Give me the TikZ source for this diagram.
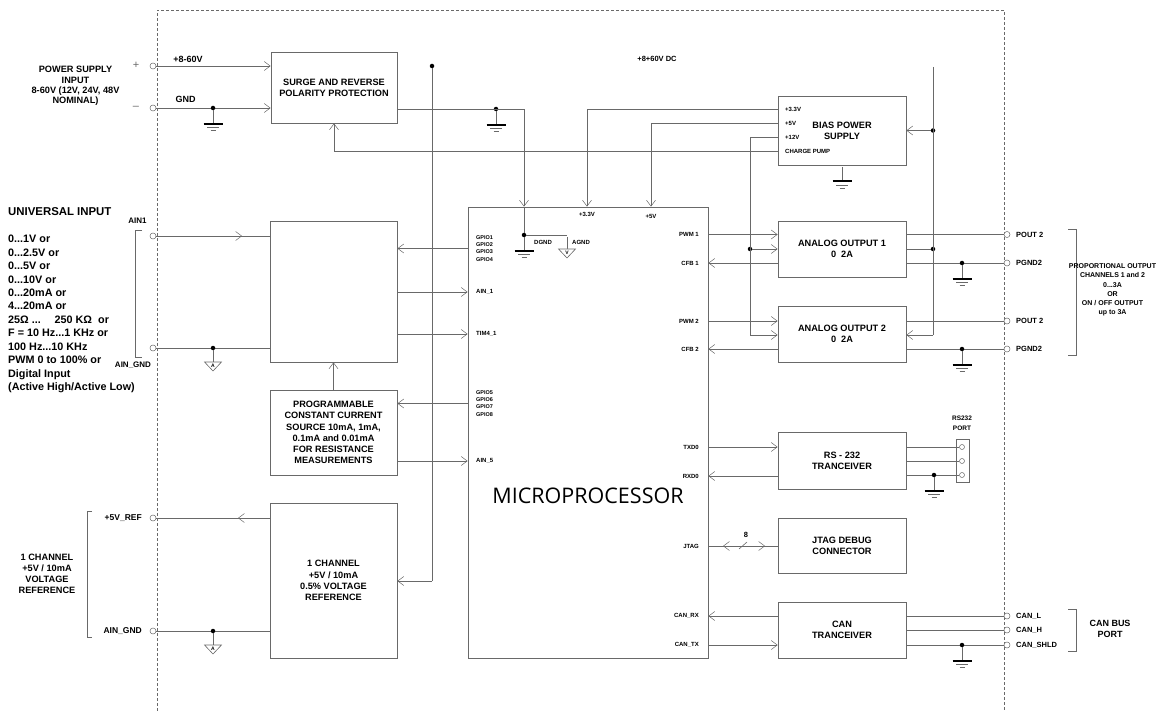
\documentclass[tikz,border=0pt]{standalone}
\usepackage{fontspec}
\setmainfont{Liberation Sans}
\newfontfamily\cpufont{Open Sans}
\usetikzlibrary{arrows.meta,calc,positioning}
\definecolor{wiregray}{RGB}{105,105,105}

\tikzset{
  wire/.style={draw=wiregray, line width=0.6pt},
  feed/.style={wire, -{Straight Barb[length=6pt,width=9pt,line width=0.5pt]}},
  block/.style={draw=wiregray, line width=0.7pt, inner sep=0pt, align=center,
    font=\bfseries\fontsize{9.2}{11.2}\selectfont},
  term/.style={circle, draw=wiregray, fill=white, line width=0.5pt, inner sep=0pt, minimum size=6pt},
  jdot/.style={circle, fill=black, inner sep=0pt, minimum size=4.5pt},
  pinlbl/.style={inner sep=0pt, font=\bfseries\fontsize{6}{7.3}\selectfont},
  gpiolbl/.style={pinlbl, align=left, font=\bfseries\fontsize{5.5}{7.2}\selectfont},
  lbl/.style={inner sep=0pt, align=center, font=\bfseries\fontsize{9}{11}\selectfont},
  portlbl/.style={inner sep=0pt, anchor=west, font=\bfseries\fontsize{7.5}{9}\selectfont},
  pics/earth/.style={code={
    \draw[wire] (0,2) -- (0,16);
    \draw[line width=2.2pt] (-9.5,16) -- (9.5,16);
    \draw[wiregray, line width=0.5pt] (-6,19.5) -- (6,19.5) (-2.5,22.5) -- (2.5,22.5);
  }},
  pics/sground/.style={code={
    \draw[wire] (0,2) -- (0,14);
    \draw[wire, fill=white] (-8.5,14) -- (8.5,14) -- (0,23) -- cycle;
    \node[inner sep=0pt, font=\bfseries\fontsize{5}{5}\selectfont] at (0,17.3) {#1};
  }},
}

\begin{document}
\begin{tikzpicture}[x=1pt, y=-1pt]
  \useasboundingbox (0,0) rectangle (1169,711);
  % module outline
  \draw[wiregray, line width=0.6pt, dash pattern=on 3pt off 2pt]
    (157,711) -- (157,10) -- (1004,10) -- (1004,711);

  % blocks
  \node[block, minimum width=126pt, minimum height=71pt] (surge) at (334,87.5) {SURGE AND REVERSE\\POLARITY PROTECTION};
  \node[block, minimum width=127pt, minimum height=141pt] (cond) at (333.5,291.5) {};
  \node[block, minimum width=127pt, minimum height=85pt] (prog) at (333.5,432.5)
    {PROGRAMMABLE\\CONSTANT CURRENT\\SOURCE 10mA, 1mA,\\0.1mA and 0.01mA\\FOR RESISTANCE\\MEASUREMENTS};
  \node[block, minimum width=127pt, minimum height=155pt] (vref) at (333.5,580.5) {1 CHANNEL\\+5V / 10mA\\0.5\% VOLTAGE\\REFERENCE};
  \node[block, minimum width=240pt, minimum height=451pt] (cpu) at (588,432.5) {};
  \node[font=\cpufont\fontsize{21.5}{22}\selectfont, inner sep=0pt] (cpuname) at (588,496) {MICROPROCESSOR};
  \node[block, minimum width=128pt, minimum height=69pt] (bias) at (842,130.5) {BIAS POWER\\SUPPLY};
  \node[block, minimum width=128pt, minimum height=56pt] (ao1) at (842,249) {ANALOG OUTPUT 1\\0\ \ 2A};
  \node[block, minimum width=128pt, minimum height=56pt] (ao2) at (842,334) {ANALOG OUTPUT 2\\0\ \ 2A};
  \node[block, minimum width=128pt, minimum height=57pt] (rs) at (842,460.5) {RS - 232\\TRANCEIVER};
  \node[block, minimum width=128pt, minimum height=55pt] (jtag) at (842,545.5) {JTAG DEBUG\\CONNECTOR};
  \node[block, minimum width=128pt, minimum height=56pt] (can) at (842,630) {CAN\\TRANCEIVER};

  % pin labels
  \node[gpiolbl, anchor=west] (gpioa) at (476,248.5) {GPIO1\\GPIO2\\GPIO3\\GPIO4};
  \node[pinlbl, anchor=west] (ain1p) at (476,292) {AIN\_1};
  \node[pinlbl, anchor=west] (tim) at (476,334) {TIM4\_1};
  \node[gpiolbl, anchor=west] (gpiob) at (476,403.5) {GPIO5\\GPIO6\\GPIO7\\GPIO8};
  \node[pinlbl, anchor=west] (ain5) at (476,461) {AIN\_5};
  \node[pinlbl, anchor=east] (pwm1) at (699,234.5) {PWM 1};
  \node[pinlbl, anchor=east] (cfb1) at (699,263) {CFB 1};
  \node[pinlbl, anchor=east] (pwm2) at (699,321) {PWM 2};
  \node[pinlbl, anchor=east] (cfb2) at (699,349) {CFB 2};
  \node[pinlbl, anchor=east] (txd) at (699,447) {TXD0};
  \node[pinlbl, anchor=east] (rxd) at (699,476) {RXD0};
  \node[pinlbl, anchor=east] (jtg) at (699,546) {JTAG};
  \node[pinlbl, anchor=east] (canrx) at (699,616) {CAN\_RX};
  \node[pinlbl, anchor=east] (cantx) at (699,645) {CAN\_TX};
  \node[pinlbl] (p33) at (587,214) {+3.3V};
  \node[pinlbl] (p5) at (651,216.5) {+5V};
  \node[pinlbl] (dgnd) at (543,242) {DGND};
  \node[pinlbl] (agnd) at (581,242) {AGND};
  \node[pinlbl, anchor=west] (b33) at (785,109) {+3.3V};
  \node[pinlbl, anchor=west] (b5) at (785,123) {+5V};
  \node[pinlbl, anchor=west] (b12) at (785,137) {+12V};
  \node[pinlbl, anchor=west] (bcp) at (785,151) {CHARGE PUMP};

  % power input
  \node[lbl, font=\bfseries\fontsize{9.2}{10.4}\selectfont] (psin) at (75.5,86) {POWER SUPPLY\\INPUT\\8-60V (12V, 24V, 48V\\NOMINAL)};
  \node[wiregray, font=\fontsize{11}{11}\selectfont, inner sep=0pt] (plus) at (136,65.5) {+};
  \node[wiregray, font=\fontsize{11}{11}\selectfont, inner sep=0pt] (minus) at (136,107.5) {\textendash};
  \node[lbl] (vinlbl) at (188,59) {+8-60V};
  \node[lbl] (gndlbl) at (185.5,99) {GND};
  \node[lbl, font=\bfseries\fontsize{7.5}{9}\selectfont] (dclbl) at (657,59) {+8+60V DC};
  \node[term] (vin) at (153,66) {};
  \node[term] (vgnd) at (153,108) {};
  \draw[feed] (vin) -- (vin -| surge.west);
  \draw[feed] (vgnd) -- (vgnd -| surge.west);
  \node[jdot] (jg1) at (213,108) {};
  \pic at (jg1) {earth};

  % supply rails
  \node[jdot] (jrail) at (432,66) {};
  \coordinate (krail) at (432,581);
  \draw[wire] (jrail) -- (krail);
  \draw[feed] (krail) -- (krail -| vref.east);
  \node[jdot] (jsg) at (496,109) {};
  \node[jdot] (jdg) at (524,235) {};
  \coordinate (kag) at (567,235);
  \draw[feed] (surge.east |- jsg) -| (jdg |- cpu.north);
  \draw[wire] (jdg |- cpu.north) -- (jdg) -- (kag);
  \pic at (jsg) {earth};
  \pic at (jdg) {earth};
  \pic at (kag) {sground=V};
  \draw[feed] (bias.west |- b33) -| (p33 |- cpu.north);
  \draw[feed] (bias.west |- b5) -| (p5 |- cpu.north);
  \draw[feed] (bias.west |- bcp) -| (surge.south);
  \node[jdot] (j12) at (750,249) {};
  \coordinate (k12) at (750,335);
  \draw[wire] (bias.west |- b12) -| (k12);
  \draw[feed] (k12) -- (k12 -| ao2.west);
  \draw[feed] (j12) -- (j12 -| ao1.west);
  \coordinate (rtop) at (933,67);
  \node[jdot] (jb) at (933,130.5) {};
  \node[jdot] (jo) at (933,249) {};
  \coordinate (ko) at (933,335);
  \draw[wire] (rtop) -- (ko);
  \draw[feed] (jb) -- (jb -| bias.east);
  \draw[wire] (jo) -- (jo -| ao1.east);
  \draw[feed] (ko) -- (ko -| ao2.east);
  \pic at (bias.south) {earth};

  % universal input
  \node[anchor=west, inner sep=0pt, font=\bfseries\fontsize{11.4}{13}\selectfont] (uihead) at (8,212) {UNIVERSAL INPUT};
  \node[anchor=west, align=left, inner sep=0pt, font=\bfseries\fontsize{10.8}{13.45}\selectfont] (uilist) at (8,314)
    {0...1V or\\0...2.5V or\\0...5V or\\0...10V or\\0...20mA or\\4...20mA or\\25Ω ...\quad\ 250 KΩ\ \ or\\
     F = 10 Hz...1 KHz or\\100 Hz...10 KHz\\PWM 0 to 100\% or\\Digital Input\\(Active High/Active Low)};
  \node[lbl, font=\bfseries\fontsize{8}{8}\selectfont] (ain1lbl) at (137.5,221) {AIN1};
  \node[lbl, font=\bfseries\fontsize{8}{8}\selectfont] (ainglbl) at (133,365) {AIN\_GND};
  \draw[wiregray, line width=0.6pt] (142,230) -- (135,230) -- (135,357) -- (142,357);
  \node[term] (ain1) at (153,236) {};
  \node[term] (aing) at (153,348) {};
  \coordinate (ain1a) at (242,236);
  \draw[wire] (ain1) -- (ain1 -| cond.west);
  \draw[feed] (ain1) -- (ain1a);
  \draw[wire] (aing) -- (aing -| cond.west);
  \node[jdot] (jai) at (213,348) {};
  \pic at (jai) {sground=A};
  \draw[feed] (gpioa -| cpu.west) -- (gpioa -| cond.east);
  \draw[feed] (ain1p -| cond.east) -- (ain1p -| cpu.west);
  \draw[feed] (tim -| cond.east) -- (tim -| cpu.west);
  \draw[feed] (prog.north) -- (cond.south);
  \draw[feed] (gpiob -| cpu.west) -- (gpiob -| prog.east);
  \draw[feed] (ain5 -| prog.east) -- (ain5 -| cpu.west);

  % voltage reference
  \node[lbl, font=\bfseries\fontsize{9.2}{11}\selectfont] (reflbl) at (47,573.5) {1 CHANNEL\\+5V / 10mA\\VOLTAGE\\REFERENCE};
  \draw[wiregray, line width=0.6pt] (92,511) -- (87,511) -- (87,637) -- (92,637);
  \node[lbl, anchor=east, font=\bfseries\fontsize{8.5}{9}\selectfont] (ref5lbl) at (142,518) {+5V\_REF};
  \node[lbl, anchor=east, font=\bfseries\fontsize{8.5}{9}\selectfont] (refglbl) at (142,631) {AIN\_GND};
  \node[term] (ref5) at (153,518) {};
  \node[term] (refg) at (153,631) {};
  \coordinate (ref5a) at (238,518);
  \draw[wire] (ref5 -| vref.west) -- (ref5);
  \draw[feed] (ref5 -| vref.west) -- (ref5a);
  \draw[wire] (refg) -- (refg -| vref.west);
  \node[jdot] (jrg) at (213,631) {};
  \pic at (jrg) {sground=A};

  % analog outputs
  \node[term] (po1) at (1007,234.5) {};
  \node[term] (pg1) at (1007,263) {};
  \node[term] (po2) at (1007,321) {};
  \node[term] (pg2) at (1007,349) {};
  \node[portlbl] at (1016,234.5) {POUT 2};
  \node[portlbl] at (1016,263) {PGND2};
  \node[portlbl] at (1016,321) {POUT 2};
  \node[portlbl] at (1016,349) {PGND2};
  \draw[feed] (pwm1 -| cpu.east) -- (pwm1 -| ao1.west);
  \draw[feed] (cfb1 -| ao1.west) -- (cfb1 -| cpu.east);
  \draw[feed] (pwm2 -| cpu.east) -- (pwm2 -| ao2.west);
  \draw[feed] (cfb2 -| ao2.west) -- (cfb2 -| cpu.east);
  \draw[wire] (po1 -| ao1.east) -- (po1);
  \draw[wire] (pg1 -| ao1.east) -- (pg1);
  \draw[wire] (po2 -| ao2.east) -- (po2);
  \draw[wire] (pg2 -| ao2.east) -- (pg2);
  \node[jdot] (jp1) at (962,263) {};
  \node[jdot] (jp2) at (962,349) {};
  \pic at (jp1) {earth};
  \pic at (jp2) {earth};
  \draw[wiregray, line width=0.6pt] (1068,229) -- (1076,229) -- (1076,355) -- (1068,355);
  \node[lbl, font=\bfseries\fontsize{7}{9.2}\selectfont] (proplbl) at (1112.5,290)
    {PROPORTIONAL OUTPUT\\CHANNELS 1 and 2\\0...3A\\OR\\ON / OFF OUTPUT\\up to 3A};

  % rs-232
  \node[draw=wiregray, line width=0.6pt, minimum width=13pt, minimum height=43pt, inner sep=0pt] (rsport) at (962.5,460.5) {};
  \node[term, minimum size=5pt] (r1) at (962,447) {};
  \node[term, minimum size=5pt] (r2) at (962,461) {};
  \node[term, minimum size=5pt] (r3) at (962,475) {};
  \node[lbl, font=\bfseries\fontsize{6.5}{10}\selectfont] (rsportlbl) at (962,423) {RS232\\PORT};
  \draw[feed] (txd -| cpu.east) -- (txd -| rs.west);
  \draw[feed] (rxd -| rs.west) -- (rxd -| cpu.east);
  \draw[wire] (r1 -| rs.east) -- (r1);
  \draw[wire] (r2 -| rs.east) -- (r2);
  \draw[wire] (r3 -| rs.east) -- (r3);
  \node[jdot] (jr) at (934,475) {};
  \pic at (jr) {earth};

  % jtag
  \coordinate (jsl) at (743,546);
  \coordinate (jla) at (723,546);
  \coordinate (jlb) at (765,546);
  \draw[wire] (jtg -| cpu.east) -- (jtg -| jtag.west);
  \draw[feed] (jsl) -- (jla);
  \draw[feed] (jsl) -- (jlb);
  \draw[wire] ($(jsl)+(-4,3)$) -- ($(jsl)+(4,-4)$);
  \node[lbl, font=\bfseries\fontsize{7.5}{8}\selectfont] (buswidth) at (746,535) {8};

  % can
  \node[term] (cl) at (1007,616) {};
  \node[term] (ch) at (1007,630) {};
  \node[term] (cs) at (1007,645) {};
  \node[portlbl] at (1016,616) {CAN\_L};
  \node[portlbl] at (1016,630) {CAN\_H};
  \node[portlbl] at (1016,645) {CAN\_SHLD};
  \draw[feed] (canrx -| can.west) -- (canrx -| cpu.east);
  \draw[feed] (cantx -| cpu.east) -- (cantx -| can.west);
  \draw[wire] (cl -| can.east) -- (cl);
  \draw[wire] (ch -| can.east) -- (ch);
  \draw[wire] (cs -| can.east) -- (cs);
  \node[jdot] (jc) at (962,645) {};
  \pic at (jc) {earth};
  \draw[wiregray, line width=0.6pt] (1068,609) -- (1076,609) -- (1076,651) -- (1068,651);
  \node[lbl] (canlbl) at (1110,628.5) {CAN BUS\\PORT};
\end{tikzpicture}
\end{document}
